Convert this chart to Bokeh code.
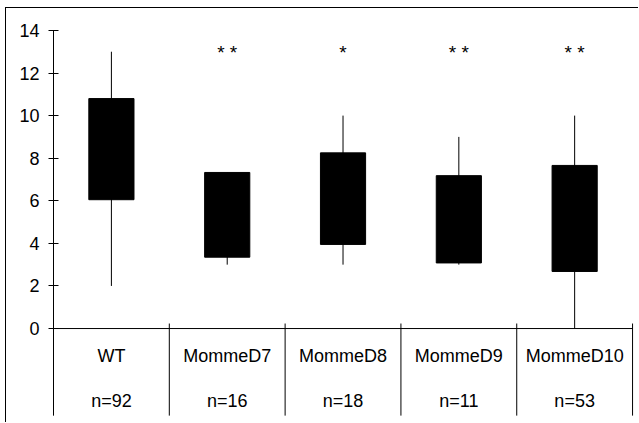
from bokeh.plotting import figure
from bokeh.models import ColumnDataSource, Range1d, FixedTicker
from bokeh.core.properties import value
from bokeh.embed import file_html
from bokeh.resources import INLINE
import numpy as np

categories = ["WT", "MommeD7", "MommeD8", "MommeD9", "MommeD10"]
n_labels = ["n=92", "n=16", "n=18", "n=11", "n=53"]
whisker_low = [2.0, 3.0, 3.0, 3.0, 0.0]
box_low = [6.05, 3.35, 3.95, 3.08, 2.68]
box_high = [10.8, 7.33, 8.25, 7.18, 7.66]
whisker_high = [13.0, 7.33, 10.0, 9.0, 10.0]
significance = ["", "* *", "*", "* *", "* *"]
y_ticks = [0, 2, 4, 6, 8, 10, 12, 14]

FONT = value("Liberation Sans")
ncat = len(categories)
centers = np.arange(ncat) + 0.5
bounds = np.arange(ncat + 1)

Y_LOW, Y_HIGH = -4.46, 15.03
DIV_LOW = -4.09

src = ColumnDataSource(dict(
    x=centers, cat=categories, n=n_labels,
    lo=whisker_low, q1=box_low, q3=box_high, hi=whisker_high, sig=significance,
    ycat=[-1.27] * ncat, yn=[-3.38] * ncat, ysig=[12.95] * ncat,
))

p = figure(width=633, height=415,
           x_range=Range1d(0, 5.06), y_range=Range1d(Y_LOW, Y_HIGH),
           output_backend="svg", toolbar_location=None,
           min_border_left=47, min_border_right=0, min_border_top=0, min_border_bottom=0)
p.styles = {"border-top": "1px solid black", "border-left": "1px solid black",
            "margin-left": "5px", "margin-top": "7px"}
p.xaxis.visible = False
p.grid.visible = False
p.outline_line_color = None
p.background_fill_color = "white"
p.border_fill_color = "white"

ax = p.yaxis[0]
ax.ticker = FixedTicker(ticks=y_ticks)
ax.bounds = (DIV_LOW, max(y_ticks))
ax.axis_line_color = "black"
ax.axis_line_width = 1
ax.major_tick_in = 5
ax.major_tick_out = 5
ax.major_tick_line_color = "black"
ax.minor_tick_line_color = None
ax.major_label_standoff = 9
ax.major_label_text_font = "Liberation Sans"
ax.major_label_text_font_size = "18px"
ax.major_label_text_color = "black"

# category axis line and dividers
p.segment(x0=[0], y0=[0], x1=[ncat], y1=[0], line_color="black", line_width=1)
p.segment(x0=bounds, y0=[0.235] * len(bounds), x1=bounds, y1=[DIV_LOW] * len(bounds),
          line_color="black", line_width=1)

# whiskers and boxes
p.segment(x0="x", y0="lo", x1="x", y1="hi", source=src, line_color="black", line_width=1)
p.vbar(x="x", width=0.39, bottom="q1", top="q3", source=src,
       fill_color="black", line_color="black", line_width=1)

# labels
p.text(x="x", y="ycat", text="cat", source=src, text_font=FONT, text_font_size="18px",
       text_align="center", text_baseline="middle", text_color="black")
p.text(x="x", y="yn", text="n", source=src, text_font=FONT, text_font_size="18px",
       text_align="center", text_baseline="middle", text_color="black")
p.text(x="x", y="ysig", text="sig", source=src, text_font=FONT, text_font_size="19px",
       text_align="center", text_baseline="alphabetic", text_color="black")

open("out.html", "w").write(file_html(p, INLINE))
